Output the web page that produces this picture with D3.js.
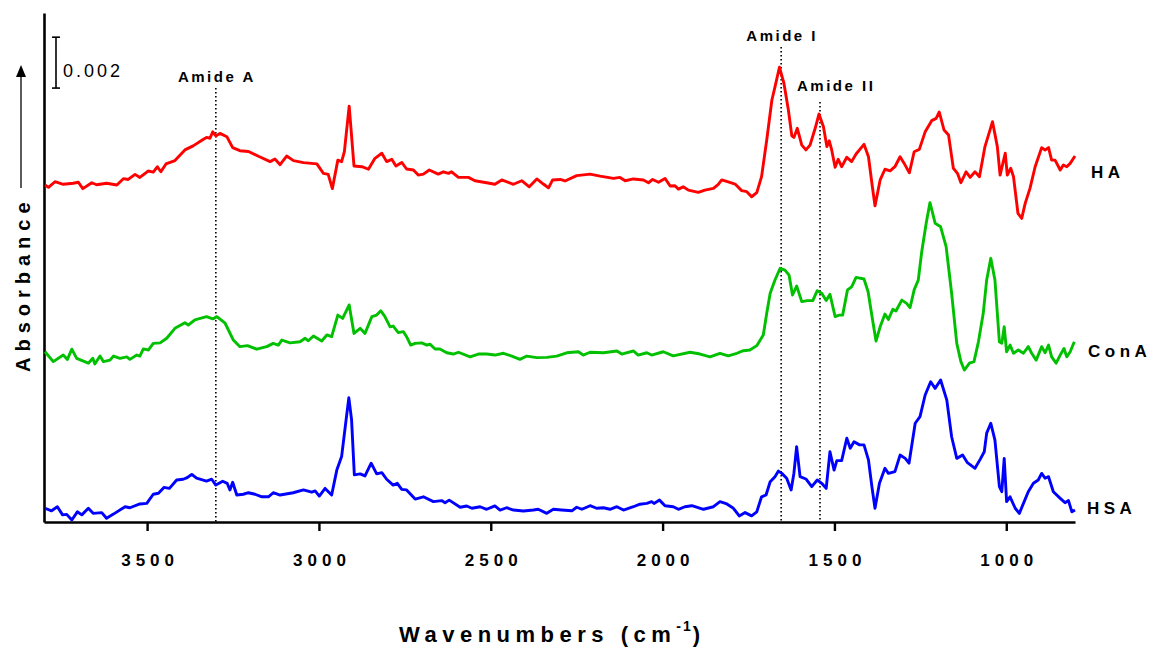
<!DOCTYPE html>
<html>
<head>
<meta charset="utf-8">
<script src="https://d3js.org/d3.v7.min.js"></script>
<style>
  body { margin: 0; background: #fff; }
  text { font-family: "Liberation Sans", Arial, sans-serif; fill: #000; }
</style>
</head>
<body>
<div id="chart"></div>
<script>
// absorbance values are in units of 10^-3 (the 0.002 scale bar = 2 units)
var haWn = [3797,3787,3768,3744,3715,3700,3687,3661,3647,3618,3588,3569,3555,3535,3521,3497,3482,3470,3460,3445,3419,3390,3366,3336,3327,3317,3309,3300,3288,3268,3251,3230,3205,3176,3142,3128,3113,3094,3074,3045,3006,2987,2973,2961,2945,2934,2926,2912,2898,2875,2856,2837,2817,2803,2788,2776,2759,2745,2725,2711,2696,2679,2653,2638,2623,2614,2594,2565,2546,2512,2488,2468,2434,2410,2388,2366,2347,2332,2320,2298,2284,2250,2211,2182,2143,2124,2109,2085,2056,2041,2029,2012,1993,1978,1964,1954,1940,1925,1896,1877,1852,1838,1828,1809,1789,1770,1755,1741,1726,1712,1697,1682,1673,1660,1647,1634,1624,1618,1608,1595,1583,1571,1556,1545,1532,1522,1515,1508,1498,1489,1479,1464,1450,1437,1414,1401,1391,1382,1367,1353,1338,1324,1309,1297,1282,1268,1253,1236,1217,1204,1195,1181,1168,1154,1142,1132,1117,1105,1091,1078,1062,1040,1026,1018,1003,997,987,979,966,955,945,931,916,897,887,877,868,858,843,834,824,814,800];
var haAbs = [13.24,13.15,13.37,13.27,13.31,13.35,13.10,13.33,13.25,13.31,13.24,13.49,13.46,13.66,13.54,13.79,13.75,13.96,13.76,14.07,14.20,14.62,14.78,15.04,15.11,15.08,15.33,15.17,15.27,15.14,14.71,14.59,14.56,14.37,14.16,14.26,14.04,14.38,14.20,14.12,14.07,13.70,13.66,13.10,14.22,14.16,14.55,16.34,13.99,13.96,13.86,14.29,14.49,14.16,14.25,13.99,14.13,13.87,13.83,13.63,13.67,13.83,13.67,13.76,13.70,13.76,13.54,13.54,13.41,13.33,13.27,13.44,13.27,13.41,13.17,13.48,13.28,13.13,13.44,13.46,13.40,13.61,13.67,13.59,13.50,13.54,13.41,13.48,13.44,13.33,13.46,13.35,13.50,13.20,13.21,13.08,13.17,13.04,12.95,13.04,13.11,13.27,13.44,13.36,13.28,13.02,12.98,12.78,12.94,13.57,15.01,16.58,17.10,17.87,17.24,16.19,15.17,15.11,15.47,14.81,14.62,14.81,15.47,16.03,15.53,14.75,14.98,14.62,13.94,14.25,13.96,14.33,14.16,14.46,14.84,14.35,13.31,12.42,13.44,13.86,13.80,13.96,14.35,14.09,13.72,14.55,14.64,15.33,15.77,15.86,16.11,15.40,15.21,13.90,13.70,13.33,13.76,13.54,13.76,13.57,14.75,15.73,14.75,13.63,14.49,13.63,13.90,13.57,12.13,11.93,12.52,13.11,13.96,14.71,14.62,14.71,14.22,14.22,13.83,14.03,13.96,14.09,14.38];

var conaWn = [3797,3773,3744,3732,3719,3705,3671,3658,3652,3637,3627,3608,3598,3579,3559,3550,3530,3521,3511,3496,3482,3462,3443,3419,3390,3380,3361,3327,3309,3297,3273,3249,3230,3208,3181,3152,3133,3118,3108,3084,3055,3040,3031,3016,2992,2977,2963,2945,2931,2912,2898,2880,2866,2846,2832,2820,2808,2793,2784,2769,2754,2745,2733,2720,2701,2686,2677,2662,2648,2628,2609,2594,2560,2536,2512,2488,2463,2439,2415,2395,2366,2337,2308,2279,2245,2231,2211,2172,2133,2119,2085,2071,2046,2032,1998,1969,1920,1891,1862,1833,1809,1784,1765,1746,1726,1707,1697,1687,1673,1658,1644,1632,1622,1610,1595,1579,1563,1550,1537,1524,1513,1498,1486,1476,1462,1450,1437,1414,1402,1389,1379,1367,1353,1343,1330,1321,1304,1290,1280,1268,1256,1246,1233,1222,1207,1191,1175,1159,1144,1132,1122,1107,1094,1081,1067,1057,1045,1033,1020,1013,1006,999,989,979,965,950,936,926,913,897,887,877,868,855,843,832,824,814,802];
var conaAbs = [6.69,6.30,6.56,6.39,6.79,6.43,6.24,6.43,6.21,6.52,6.30,6.36,6.52,6.43,6.49,6.39,6.56,6.52,6.80,6.76,7.02,7.04,7.22,7.61,7.83,7.74,7.94,8.07,7.98,8.07,7.81,7.15,6.89,6.93,6.79,6.89,7.02,6.95,7.15,7.04,7.08,7.22,7.12,7.31,7.11,7.35,7.28,8.13,8.00,8.53,7.41,7.61,7.41,8.07,8.13,8.30,8.07,7.67,7.70,7.44,7.48,7.28,6.95,7.02,7.04,6.95,6.99,6.80,6.80,6.65,6.60,6.67,6.49,6.60,6.60,6.56,6.63,6.52,6.39,6.52,6.46,6.47,6.52,6.65,6.69,6.56,6.67,6.65,6.72,6.60,6.72,6.56,6.65,6.56,6.69,6.53,6.67,6.60,6.49,6.63,6.53,6.63,6.73,6.76,6.93,7.35,8.20,8.99,9.51,9.97,9.90,9.70,8.92,9.27,8.66,8.70,8.70,9.09,8.99,8.70,8.95,8.07,8.13,8.13,9.12,9.24,9.61,9.55,9.05,7.94,7.11,7.67,8.17,7.96,8.36,8.29,8.72,8.59,8.42,9.12,9.51,10.62,11.74,12.55,11.74,11.60,10.82,8.99,7.02,6.30,5.97,6.24,6.30,7.08,8.20,9.51,10.36,9.51,7.08,7.02,7.67,6.69,6.95,6.63,6.76,6.63,6.89,6.63,6.36,6.89,6.65,6.95,6.49,6.24,6.56,6.82,6.49,6.69,7.08];

var hsaWn = [3797,3778,3761,3746,3734,3719,3703,3690,3671,3657,3632,3618,3598,3564,3550,3521,3501,3482,3467,3451,3435,3414,3395,3385,3370,3356,3327,3312,3300,3280,3267,3259,3251,3239,3220,3205,3186,3166,3147,3133,3113,3075,3045,3021,3011,2999,2982,2963,2948,2934,2921,2913,2905,2897,2880,2866,2848,2832,2817,2803,2784,2772,2759,2745,2720,2696,2667,2643,2633,2621,2589,2570,2555,2531,2512,2488,2473,2454,2434,2405,2376,2362,2337,2318,2294,2264,2250,2235,2211,2192,2172,2153,2133,2114,2085,2066,2046,2032,2025,2009,1993,1969,1954,1935,1915,1881,1852,1833,1813,1794,1777,1760,1741,1726,1712,1699,1687,1673,1663,1653,1639,1626,1618,1610,1600,1583,1566,1550,1537,1524,1513,1501,1493,1479,1464,1454,1443,1427,1414,1401,1391,1382,1369,1353,1343,1324,1309,1294,1283,1265,1251,1236,1220,1207,1191,1173,1159,1144,1127,1113,1091,1076,1064,1057,1045,1033,1020,1013,1006,999,989,974,962,950,936,921,907,897,887,877,863,843,829,819,809,800];
var hsaAbs = [0.54,0.44,0.60,0.28,0.30,0.08,0.40,0.28,0.54,0.34,0.37,0.15,0.31,0.60,0.56,0.71,0.73,1.09,1.13,1.36,1.32,1.65,1.68,1.73,1.87,1.72,1.61,1.68,1.45,1.60,1.52,1.26,1.56,1.06,1.09,1.15,1.09,0.99,0.99,1.15,1.06,1.15,1.26,1.17,1.22,1.02,1.32,1.06,2.04,2.57,4.01,4.88,4.01,1.85,1.89,1.81,2.31,1.89,1.94,1.68,1.45,1.52,1.28,1.26,0.90,0.99,0.80,0.84,0.76,0.86,0.58,0.63,0.54,0.60,0.50,0.63,0.47,0.56,0.47,0.43,0.47,0.50,0.34,0.50,0.47,0.44,0.58,0.50,0.64,0.54,0.56,0.50,0.60,0.47,0.60,0.70,0.73,0.80,0.73,0.86,0.64,0.60,0.50,0.60,0.64,0.50,0.60,0.80,0.71,0.54,0.24,0.37,0.24,0.40,0.99,1.06,1.58,1.78,2.00,1.91,1.72,1.26,1.91,2.96,1.78,1.69,1.39,1.65,1.52,1.32,2.76,2.04,2.41,2.41,3.29,2.90,3.15,3.03,3.03,2.44,1.39,0.54,1.52,2.11,1.91,1.98,2.63,2.50,2.31,3.88,4.14,4.99,5.51,5.25,5.58,4.79,3.35,2.50,2.63,2.33,2.11,2.46,2.76,3.49,3.88,3.22,1.39,1.19,2.50,0.80,0.99,0.54,0.34,0.73,1.19,1.52,1.65,1.91,1.72,1.78,1.19,0.93,0.76,0.84,0.40,0.47];

var xTicks = [3500, 3000, 2500, 2000, 1500, 1000];
var seriesNames = ["HA", "ConA", "HSA"];
var seriesColors = ["#ff0000", "#00c000", "#0000ff"];
var amideNames = ["Amide A", "Amide I", "Amide II"];
var amideWn = [3300, 1655, 1542];
var scaleBarLabel = "0.002";
var scaleBarSize = 2;

var W = 1153, H = 650;
var plotLeft = 44, plotRight = 1075, plotTop = 13, plotBottom = 522;

var svg = d3.select("#chart").append("svg")
  .attr("width", W).attr("height", H);

var x = d3.scaleLinear().domain([3800, 800]).range([plotLeft, plotRight]);
var y = d3.scaleLinear().domain([0, 20]).range([plotBottom, plotTop]);

// axes
var xAxis = svg.append("g")
  .attr("transform", "translate(0," + plotBottom + ")")
  .call(d3.axisBottom(x).tickValues(xTicks).tickSize(9).tickSizeOuter(0).tickPadding(23).tickFormat(d3.format("d")));
xAxis.select(".domain").attr("stroke-width", 2.6);
xAxis.selectAll(".tick line").attr("stroke-width", 2.4);
xAxis.selectAll(".tick text")
  .style("font-size", "17px").style("font-weight", "bold")
  .style("letter-spacing", "5px").attr("dx", "2.5px");

var yAxis = svg.append("g")
  .attr("transform", "translate(" + plotLeft + ",0)")
  .call(d3.axisLeft(y).tickValues([]).tickSizeOuter(0));
yAxis.select(".domain").attr("stroke-width", 2.6);

// amide marker lines
var dotY0 = [88, 47, 102];
amideNames.forEach(function(name, i) {
  var xp = x(amideWn[i]);
  svg.append("line")
    .attr("x1", xp).attr("x2", xp)
    .attr("y1", dotY0[i]).attr("y2", plotBottom)
    .attr("stroke", "#000").attr("stroke-width", 1.6)
    .attr("stroke-dasharray", "1.6,2.4");
});
svg.append("text").attr("x", x(amideWn[0]) + 1).attr("y", 82)
  .attr("text-anchor", "middle").style("font-size", "15px").style("font-weight", "bold")
  .style("letter-spacing", "2.5px").text(amideNames[0]);
svg.append("text").attr("x", x(amideWn[1]) + 1).attr("y", 41)
  .attr("text-anchor", "middle").style("font-size", "15px").style("font-weight", "bold")
  .style("letter-spacing", "2.5px").text(amideNames[1]);
svg.append("text").attr("x", x(amideWn[2]) - 23).attr("y", 91)
  .attr("text-anchor", "start").style("font-size", "15px").style("font-weight", "bold")
  .style("letter-spacing", "2.5px").text(amideNames[2]);

// spectra
var line = d3.line()
  .x(function(d) { return x(d[0]); })
  .y(function(d) { return y(d[1]); });

var spectra = [d3.zip(haWn, haAbs), d3.zip(conaWn, conaAbs), d3.zip(hsaWn, hsaAbs)];
spectra.forEach(function(data, i) {
  svg.append("path")
    .datum(data)
    .attr("fill", "none")
    .attr("stroke", seriesColors[i])
    .attr("stroke-width", 2.9)
    .attr("stroke-linejoin", "round")
    .attr("d", line);
});

// series labels
var labelY = [178, 357, 514];
var labelX = [1091, 1088, 1087];
seriesNames.forEach(function(name, i) {
  svg.append("text").attr("x", labelX[i]).attr("y", labelY[i])
    .style("font-size", "17px").style("font-weight", "bold")
    .style("letter-spacing", "4.5px").text(name);
});

// scale bar
var sbBase = 17.05;
var sbX = 56;
var sb = svg.append("g").attr("stroke", "#000").attr("stroke-width", 1.6);
sb.append("line").attr("x1", sbX).attr("x2", sbX).attr("y1", y(sbBase)).attr("y2", y(sbBase + scaleBarSize));
sb.append("line").attr("x1", sbX - 4).attr("x2", sbX + 4).attr("y1", y(sbBase)).attr("y2", y(sbBase));
sb.append("line").attr("x1", sbX - 4).attr("x2", sbX + 4).attr("y1", y(sbBase + scaleBarSize)).attr("y2", y(sbBase + scaleBarSize));
svg.append("text").attr("x", 63).attr("y", 77)
  .style("font-size", "18px").style("letter-spacing", "3px").text(scaleBarLabel);

// y title with arrow
svg.append("text")
  .attr("transform", "translate(30,372) rotate(-90)")
  .style("font-size", "20px").style("font-weight", "bold")
  .style("letter-spacing", "6px").text("Absorbance");
svg.append("line").attr("x1", 21).attr("x2", 21).attr("y1", 188).attr("y2", 76)
  .attr("stroke", "#333").attr("stroke-width", 1.6);
svg.append("path").attr("d", "M21,65 L16,77 L26,77 Z").attr("fill", "#000");

// x title
var xt = svg.append("text").attr("x", 399).attr("y", 642)
  .style("font-size", "22px").style("font-weight", "bold").style("letter-spacing", "5.5px");
xt.append("tspan").text("Wavenumbers (cm");
xt.append("tspan").attr("dy", -11).style("font-size", "14px").style("letter-spacing", "2px").text("-1");
xt.append("tspan").attr("dy", 11).text(")");
</script>
</body>
</html>
